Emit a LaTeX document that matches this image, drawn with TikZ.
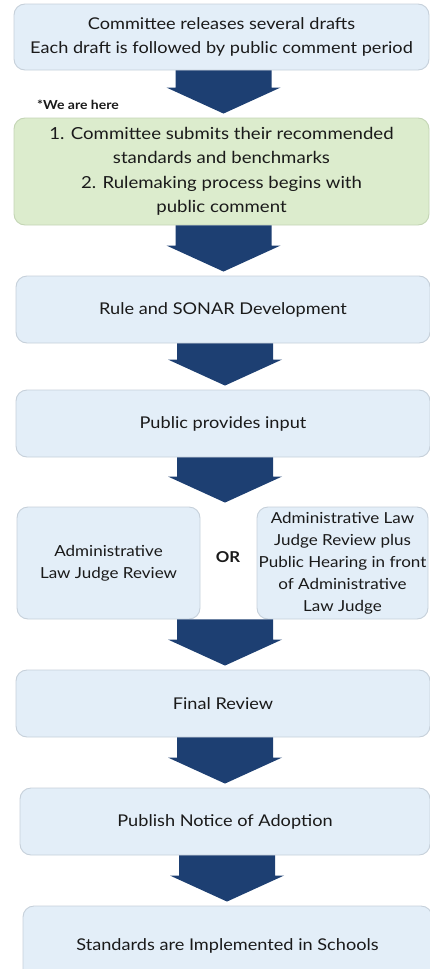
\documentclass[tikz,border=0pt]{standalone}
\usepackage{fontspec}
\setmainfont{Lato}[FakeStretch=1.12]
\usetikzlibrary{calc}
\definecolor{boxfill}{HTML}{E3EEF8}
\definecolor{boxline}{HTML}{C6D0DA}
\definecolor{greenfill}{HTML}{DCECCD}
\definecolor{greenline}{HTML}{C4D5B5}
\definecolor{navy}{HTML}{1D3F72}
\definecolor{ink}{HTML}{1A1A1A}
\tikzset{
  stepbox/.style={draw=boxline, line width=0.9pt, fill=boxfill, rounded corners=11pt,
    text=ink, align=center, font=\fontsize{16.2}{23.5}\selectfont, inner sep=0pt},
  herebox/.style={stepbox, draw=greenline, fill=greenfill},
  flow/.style={fill=navy, draw=none}
}
% block arrow from the bottom of one node to the top of another
\newcommand{\flowarrow}[2]{%
  \fill[flow] let \p1=(#1), \p2=(#2) in
    (\x1-48pt,\y1) -- (\x1+48pt,\y1) -- (\x1+48pt,\y2+30pt) -- (\x1+57pt,\y2+30pt)
    -- (\x1,\y2+4pt) -- (\x1-57pt,\y2+30pt) -- (\x1-48pt,\y2+30pt) -- cycle;}
\begin{document}
\begin{tikzpicture}[x=1pt,y=1pt]
\useasboundingbox (0,0) rectangle (430,-969);
\clip (0,0) rectangle (430,-969);

% process steps
\node[stepbox, minimum width=415pt, minimum height=66pt] (drafts) at (221.5,-37)
  {Committee releases several drafts\\Each draft is followed by public comment period};
\node[herebox, minimum width=415pt, minimum height=107pt, font=\fontsize{16.6}{24.5}\selectfont] (submit) at (221.5,-171.5)
  {1. Committee submits their recommended\\standards and benchmarks\\2. Rulemaking process begins with\\public comment};
\node[anchor=west, font=\fontsize{12.5}{14}\selectfont\bfseries, text=ink, inner sep=0pt] (here) at (37,-105) {*We are here};
\node[stepbox, minimum width=414pt, minimum height=67pt] (sonar) at (223,-309.5) {Rule and SONAR Development};
\node[stepbox, minimum width=414pt, minimum height=67pt] (input) at (223,-423.5) {Public provides input};
\node[stepbox, minimum width=183pt, minimum height=112pt, font=\fontsize{15.2}{22}\selectfont] (alj) at (108.5,-563)
  {Administrative\\Law Judge Review};
\node[stepbox, minimum width=171pt, minimum height=112pt, font=\fontsize{15.2}{22}\selectfont] (hearing) at (342.5,-563)
  {Administrative Law\\Judge Review plus\\Public Hearing in front\\of Administrative\\Law Judge};
\node[font=\fontsize{15}{16}\selectfont\bfseries, text=ink, inner sep=0pt] (or) at (228,-557) {OR};
\node[stepbox, minimum width=414pt, minimum height=67pt] (final) at (223,-703.5) {Final Review};
\node[stepbox, minimum width=410pt, minimum height=67pt] (notice) at (225,-821.5) {Publish Notice of Adoption};
\node[stepbox, minimum width=409pt, minimum height=80pt] (schools) at (227.5,-946) {Standards are Implemented in Schools};

% where the split row begins and ends
\coordinate (forktop) at (input.south |- alj.north);
\coordinate (forkbot) at (input.south |- alj.south);

% arrows between steps
\flowarrow{[xshift=2pt]drafts.south}{[xshift=2pt]submit.north}
\flowarrow{[xshift=2pt]submit.south}{[xshift=2pt]submit.south |- sonar.north}
\flowarrow{[xshift=2pt]sonar.south}{[xshift=2pt]input.north}
\flowarrow{[xshift=2pt]input.south}{[xshift=2pt]forktop}
\flowarrow{[xshift=2pt]forkbot}{[xshift=2pt]final.north}
\flowarrow{[xshift=2pt]final.south}{[xshift=2pt]final.south |- notice.north}
\flowarrow{[xshift=2pt]notice.south}{[xshift=2pt]notice.south |- schools.north}
\end{tikzpicture}
\end{document}
